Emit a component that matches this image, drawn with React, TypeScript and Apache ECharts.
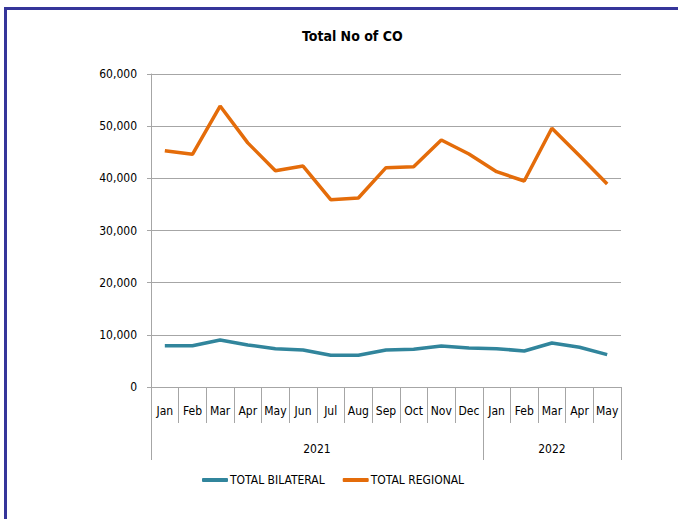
import React, { useEffect, useRef } from "react";
import * as echarts from "echarts";

const months = ["Jan", "Feb", "Mar", "Apr", "May", "Jun", "Jul", "Aug", "Sep", "Oct", "Nov", "Dec", "Jan", "Feb", "Mar", "Apr", "May"];
const years = ["2021", "2022"];
const yearBoundaries = [0, 12, 17];
const yearCenters = [6, 14.5];
const totalBilateral = [7920, 7920, 9010, 8050, 7350, 7090, 6070, 6070, 7090, 7220, 7860, 7480, 7350, 6900, 8430, 7610, 6200];
const totalRegional = [45300, 44600, 53860, 46800, 41470, 42360, 35900, 36230, 42040, 42230, 47350, 44660, 41270, 39490, 49590, 44340, 38910];
const yTicks = { min: 0, max: 60000, interval: 10000 };

const FONT = "'DejaVu Sans Condensed', 'Liberation Sans Narrow', Roboto, sans-serif";
const GRAY = "#A6A6A6";

export default function App() {
  const ref = useRef<HTMLDivElement>(null);
  useEffect(() => {
    if (!ref.current) return;
    const chart = echarts.init(ref.current, null, { renderer: "svg" });
    chart.setOption({
      animation: false,
      backgroundColor: "#ffffff",
      textStyle: { fontFamily: FONT },
      title: {
        text: "Total No of CO",
        left: 297,
        top: 24,
        textStyle: { fontFamily: FONT, fontSize: 14, fontWeight: "bold", color: "#000" },
      },
      legend: {
        left: 197,
        top: 469,
        itemWidth: 26,
        itemHeight: 4,
        itemGap: 18,
        icon: "roundRect",
        textStyle: { fontFamily: FONT, fontSize: 12, color: "#000", padding: [0, 0, 0, -3] },
        data: ["TOTAL BILATERAL", "TOTAL REGIONAL"],
      },
      grid: { left: 151, right: 57, top: 74, bottom: 132, containLabel: false, outerBoundsMode: "none" },
      xAxis: [
        {
          type: "category",
          data: months,
          position: "bottom",
          boundaryGap: true,
          axisLine: { show: true, lineStyle: { color: GRAY, width: 1 } },
          axisTick: { show: true, interval: 0, length: 36, lineStyle: { color: GRAY } },
          axisLabel: { interval: 0, margin: 18, fontSize: 12, color: "#000", fontFamily: FONT },
          splitLine: { show: false },
        },
        {
          type: "value",
          min: 0,
          max: 17,
          position: "bottom",
          axisLine: { show: false },
          axisTick: { show: true, length: 73, customValues: yearBoundaries, lineStyle: { color: GRAY } },
          axisLabel: {
            show: true,
            customValues: yearCenters,
            margin: 56,
            fontSize: 12,
            color: "#000",
            fontFamily: FONT,
            formatter: (v: number) => (v < 12 ? years[0] : years[1]),
          },
          splitLine: { show: false },
        },
      ],
      yAxis: {
        type: "value",
        min: yTicks.min,
        max: yTicks.max,
        interval: yTicks.interval,
        axisLine: { show: true, lineStyle: { color: GRAY } },
        axisTick: { show: true, length: 4, lineStyle: { color: GRAY } },
        axisLabel: {
          margin: 14,
          fontSize: 12,
          color: "#000",
          fontFamily: FONT,
          formatter: (v: number) => v.toLocaleString("en-US"),
        },
        splitLine: { show: true, lineStyle: { color: GRAY, width: 1 } },
      },
      series: [
        {
          name: "TOTAL BILATERAL",
          type: "line",
          xAxisIndex: 0,
          data: totalBilateral,
          symbol: "none",
          lineStyle: { color: "#31859C", width: 3.5 },
          itemStyle: { color: "#31859C" },
        },
        {
          name: "TOTAL REGIONAL",
          type: "line",
          xAxisIndex: 0,
          data: totalRegional,
          symbol: "none",
          lineStyle: { color: "#E46C0A", width: 3.5 },
          itemStyle: { color: "#E46C0A" },
        },
      ],
      graphic: [
        { type: "line", shape: { x1: 4, y1: 8.5, x2: 678, y2: 8.5 }, style: { stroke: "#35359A", lineWidth: 3 } },
        { type: "line", shape: { x1: 5.5, y1: 7, x2: 5.5, y2: 519 }, style: { stroke: "#35359A", lineWidth: 3 } },
      ],
    });
    return () => chart.dispose();
  }, []);
  return <div ref={ref} style={{ position: "absolute", left: 0, top: 0, width: 678, height: 519 }} />;
}
